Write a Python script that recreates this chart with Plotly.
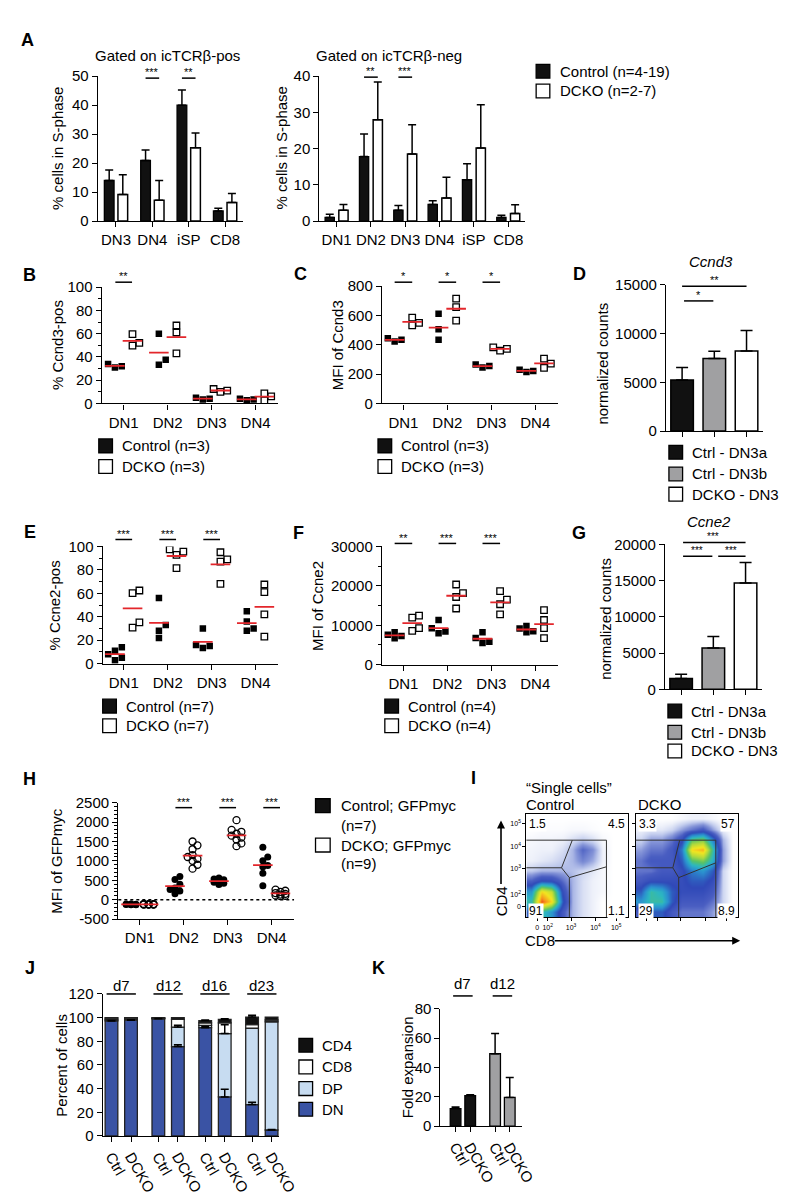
import plotly.graph_objects as go

FONT = "Liberation Sans, Arial, Helvetica, sans-serif"
W, H = 800, 1200
BLACK = "#111111"
RED = "#e3262b"
GRAY = "#a0a0a2"
BLUE = "#3a53a4"
LBLUE = "#c7dcf1"

# ------------------------------------------------------------------ data
# Panel A (left): gated on icTCRb-pos
a1_cats = ["DN3", "DN4", "iSP", "CD8"]
a1_ctrl = [14.0, 20.9, 40.0, 3.5]
a1_ctrl_err = [3.6, 3.6, 5.2, 0.9]
a1_dcko = [9.2, 7.2, 25.3, 6.4]
a1_dcko_err = [6.8, 6.8, 5.1, 3.1]
a1_yticks = [0, 10, 20, 30, 40, 50]
a1_sig = [(1, "***"), (2, "**")]

# Panel A (right): gated on icTCRb-neg
a2_cats = ["DN1", "DN2", "DN3", "DN4", "iSP", "CD8"]
a2_ctrl = [1.0, 17.8, 3.0, 4.6, 11.4, 1.0]
a2_ctrl_err = [0.9, 6.2, 1.3, 1.0, 4.4, 0.6]
a2_dcko = [3.0, 28.0, 18.5, 6.4, 20.2, 2.1]
a2_dcko_err = [1.6, 10.4, 8.1, 5.7, 11.9, 2.4]
a2_yticks = [0, 10, 20, 30, 40]
a2_sig = [(1, "**"), (2, "***")]

dn_cats = ["DN1", "DN2", "DN3", "DN4"]

# Panel B: % Ccnd3-pos
b_ctrl = [[34, 32, 31], [60, 37.6, 33.3], [5, 4, 3.5], [4, 3.5, 2.8]]
b_dcko = [[59.6, 49.7, 52], [67, 61, 43], [12.4, 11, 10], [8.7, 6, 2.7]]
b_yticks = [0, 20, 40, 60, 80, 100]
b_sig = [(1, "**")]

# Panel C: MFI of Ccnd3
c_ctrl = [[445, 422, 435], [612, 506, 435], [265, 245, 255], [230, 215, 222]]
c_dcko = [[585, 533, 550], [715, 657, 565], [383, 360, 372], [305, 272, 242]]
c_yticks = [0, 200, 400, 600, 800]
c_sig = [(1, "*"), (2, "*"), (3, "*")]

# Panel D: Ccnd3 normalized counts
rna_labels = ["Ctrl - DN3a", "Ctrl - DN3b", "DCKO - DN3"]
d_vals = [5236, 7432, 8210]
d_err = [1284, 744, 2090]
d_yticks = [0, 5000, 10000, 15000]

# Panel E: % Ccne2-pos
e_ctrl = [[14, 11, 8, 5, 3], [56, 33, 28, 22], [30, 16, 15, 13.4], [44.8, 35.9, 30, 28]]
e_dcko = [[62.4, 60.2, 35.3, 30.8], [97.5, 95.5, 92.7, 81.5], [95, 89, 87, 68], [67.5, 61, 42, 23]]
e_yticks = [0, 20, 40, 60, 80, 100]
e_sig = [(1, "***"), (2, "***"), (3, "***")]

# Panel F: MFI of Ccne2
f_ctrl = [[8200, 7600, 7300, 6700], [11330, 9250, 8420, 8000], [8250, 6750, 5800, 5500], [9800, 9200, 8500, 8200]]
f_dcko = [[12420, 11920, 9250, 8580], [20330, 18170, 17170, 14250], [18670, 16500, 15330, 12750], [13830, 11330, 9250, 6750]]
f_yticks = [0, 10000, 20000, 30000]
f_sig = [(1, "**"), (2, "***"), (3, "***")]

# Panel G: Ccne2 normalized counts
g_vals = [1500, 5712, 14690]
g_err = [590, 1590, 2810]
g_yticks = [0, 5000, 10000, 15000, 20000]

# Panel H: MFI of GFPmyc
h_ctrl = [[-110, -120, -130, -115, -125, -120, -130],
          [600, 520, 400, 300, 260, 220, 150],
          [560, 530, 510, 480, 450, 420, 390],
          [1350, 1100, 1000, 880, 850, 680, 360]]
h_dcko = [[-115, -120, -125, -130, -110, -120, -125, -118, -122],
          [1500, 1400, 1300, 1150, 1100, 1050, 1000, 900, 800],
          [2050, 1800, 1750, 1700, 1650, 1600, 1550, 1450, 1380],
          [260, 230, 200, 170, 150, 130, 110, 100, 90]]
h_yticks = [-500, 0, 500, 1000, 1500, 2000, 2500]
h_sig = [(2, "***"), (3, "***"), (4, "***")]

# Panel I: coarse density (rows: CD4 low->high, cols: CD8 low->high)
i_ctrl_grid = [
    [3, 5, 4, 2, 0.8, 0.4, 0.2, 0, 0, 0],
    [5, 9.5, 8, 3, 0.8, 0.4, 0.2, 0, 0, 0],
    [4, 8, 7, 2.5, 0.8, 0.4, 0.2, 0.1, 0, 0],
    [1.8, 2.6, 2.5, 1.6, 0.8, 0.4, 0.2, 0.1, 0, 0],
    [0.6, 0.8, 0.8, 0.8, 0.7, 0.5, 0.3, 0.1, 0, 0],
    [0.2, 0.3, 0.4, 0.6, 0.8, 1.3, 0.9, 0.2, 0, 0],
    [0.15, 0.2, 0.2, 0.4, 0.8, 1.7, 1.2, 0.2, 0, 0],
    [0.1, 0.15, 0.15, 0.2, 0.4, 0.6, 0.4, 0.1, 0, 0],
    [0, 0.05, 0.05, 0.05, 0.1, 0.1, 0.05, 0, 0, 0],
    [0, 0, 0, 0, 0, 0, 0, 0, 0, 0],
]
i_dcko_grid = [
    [2, 3, 3, 2, 1.5, 1.5, 1.5, 1, 0.3, 0],
    [4, 5, 5, 3, 2, 2, 2, 1.5, 0.5, 0],
    [3, 5, 4.5, 3, 2.5, 2.5, 2.5, 2, 0.5, 0],
    [2, 2.5, 2.5, 2.5, 2.5, 3, 3, 2.5, 0.5, 0],
    [1.5, 1.5, 2, 2, 2.5, 3.5, 4, 3, 0.5, 0],
    [1.5, 2, 2, 2, 3, 5.5, 6, 4.5, 1, 0],
    [1, 1.5, 1.5, 2, 3.5, 8, 8.5, 5, 1, 0],
    [0.5, 1, 1, 1.5, 2.5, 5.5, 6, 3.5, 0.8, 0],
    [0.2, 0.3, 0.3, 0.5, 1, 1.5, 2, 1, 0.2, 0],
    [0, 0, 0, 0, 0.1, 0.2, 0.2, 0.1, 0, 0],
]
i_ticktext = ["0", "10<sup>2</sup>", "10<sup>3</sup>", "10<sup>4</sup>", "10<sup>5</sup>"]
i_ctrl_quad = ["1.5", "4.5", "91", "1.1"]
i_dcko_quad = ["3.3", "57", "29", "8.9"]

# Panel J: stacked composition
j_days = ["d7", "d12", "d16", "d23"]
j_labels = ["Ctrl", "DCKO"] * 4
j_dn = [97.2, 97.8, 99.0, 75.5, 91.5, 33.0, 26.5, 5.0]
j_dn_err = [0.3, 0.3, 0.2, 1.5, 1.0, 6.5, 2.0, 0.5]
j_dp = [1.0, 0.5, 0.3, 16.5, 2.0, 53.5, 64.5, 91.5]
j_dp_err = [0, 0, 0, 1.5, 0, 7.5, 0, 0]
j_cd8 = [1.3, 1.2, 0.4, 6.5, 2.0, 9.0, 3.0, 1.5]
j_cd4 = [0.5, 0.5, 0.3, 1.5, 2.0, 3.0, 6.5, 2.5]
j_cd4_err = [0, 0, 0, 0, 0.5, 0.5, 1.5, 0]
j_yticks = [0, 20, 40, 60, 80, 100, 120]

# Panel K: fold expansion
k_days = ["d7", "d12"]
k_labels = ["Ctrl", "DCKO", "Ctrl", "DCKO"]
k_vals = [11.9, 20.8, 49.3, 19.5]
k_err = [1.1, 0.6, 13.9, 13.7]
k_yticks = [0, 20, 40, 60, 80]

# ------------------------------------------------------------------ helpers
fig = go.Figure()
shapes, annots = [], []
PAN = {}


def fx(p):
    return p / W


def fy(p):
    return 1 - p / H


def ax_ids(n):
    s = "" if n == 1 else str(n)
    return "x" + s, "y" + s, "xaxis" + s, "yaxis" + s


AX_BASE = dict(showline=True, linecolor="black", linewidth=1.3, ticks="outside", ticklen=5,
               tickwidth=1.3, tickcolor="black", showgrid=False, zeroline=False,
               tickfont=dict(family=FONT, size=15, color="black"), fixedrange=True)


def make_axes(n, xd, yd, xr, yr, xkw=None, ykw=None):
    xa, ya, xs, ys = ax_ids(n)
    PAN[n] = (xd, yd, xr, yr)
    xax = dict(AX_BASE, domain=[fx(xd[0]), fx(xd[1])], range=xr, anchor=ya)
    yax = dict(AX_BASE, domain=[fy(yd[1]), fy(yd[0])], range=yr, anchor=xa)
    if xkw:
        xax.update(xkw)
    if ykw:
        yax.update(ykw)
    fig.update_layout({xs: xax, ys: yax})
    return xa, ya


def X(n, v):
    xd, yd, xr, yr = PAN[n]
    return xd[0] + (v - xr[0]) / (xr[1] - xr[0]) * (xd[1] - xd[0])


def Y(n, v):
    xd, yd, xr, yr = PAN[n]
    return yd[1] - (v - yr[0]) / (yr[1] - yr[0]) * (yd[1] - yd[0])


def text(x, y, s, size=15, xanchor="center", yanchor="middle", angle=0, bold=False,
         italic=False, bg=None):
    if bold:
        s = f"<b>{s}</b>"
    if italic:
        s = f"<i>{s}</i>"
    a = dict(x=fx(x), y=fy(y), xref="paper", yref="paper", text=s, showarrow=False,
             xanchor=xanchor, yanchor=yanchor, textangle=angle,
             font=dict(family=FONT, size=size, color="black"), borderpad=0)
    if bg:
        a["bgcolor"] = bg
    annots.append(a)


def line(x0, y0, x1, y1, w=1.5, color="black", dash=None):
    l = dict(color=color, width=w)
    if dash:
        l["dash"] = dash
    shapes.append(dict(type="line", xref="paper", yref="paper", x0=fx(x0), y0=fy(y0),
                       x1=fx(x1), y1=fy(y1), line=l))


def box(x0, y0, x1, y1, fill, lw=1.3):
    shapes.append(dict(type="rect", xref="paper", yref="paper", x0=fx(x0), y0=fy(y1),
                       x1=fx(x1), y1=fy(y0), fillcolor=fill, line=dict(color="black", width=lw)))


def legend(x, ys, fills, labels, size=15, sq=14):
    for yc, f, lab in zip(ys, fills, labels):
        box(x, yc - sq / 2, x + sq, yc + sq / 2, f)
        text(x + sq + 9, yc, lab, size=size, xanchor="left")


def stars(xc, ypx, s, size=11):
    # asterisks sit high in the em box; anchor a compact box just above the bar
    text(xc, ypx - 6, s, size=size, yanchor="middle")


def sig(n, x0v, x1v, ypx, s):
    line(X(n, x0v), ypx, X(n, x1v), ypx, w=1.5)
    stars((X(n, x0v) + X(n, x1v)) / 2, ypx, s)


def err(e, width=4):
    return dict(type="data", array=e, arrayminus=[0] * len(e), symmetric=False,
                color="black", thickness=1.5, width=width, visible=True)


def swarm_offsets(n, vals, d):
    xd, yd, xr, yr = PAN[n]
    kx = (xd[1] - xd[0]) / (xr[1] - xr[0])
    ky = (yd[1] - yd[0]) / (yr[1] - yr[0])
    placed, offs = [], [0.0] * len(vals)
    for i in sorted(range(len(vals)), key=lambda j: vals[j]):
        y = vals[i] * ky
        best, best_cost = 0.0, None
        for c in (0, d, -d):
            cost = sum(max(0.0, d - ((c - px) ** 2 + (y - py) ** 2) ** 0.5) for px, py in placed)
            if best_cost is None or cost < best_cost - 1e-9:
                best, best_cost = c, cost
        placed.append((best, y))
        offs[i] = best / kx
    return offs


def pair_bars(n, ncat, ctrl, ctrl_e, dcko, dcko_e, sep, width):
    xa, ya, _, _ = ax_ids(n)
    idx = list(range(ncat))
    fig.add_bar(x=[i - sep for i in idx], y=ctrl, width=width, xaxis=xa, yaxis=ya,
                marker=dict(color=BLACK, line=dict(color="black", width=1.3)), error_y=err(ctrl_e))
    fig.add_bar(x=[i + sep for i in idx], y=dcko, width=width, xaxis=xa, yaxis=ya,
                marker=dict(color="white", line=dict(color="black", width=1.5)), error_y=err(dcko_e))


def dot_panel(n, ctrl, dcko, filled, opened, size, sep, spread):
    xa, ya, _, _ = ax_ids(n)
    for groups, sign, sym in ((ctrl, -1, filled), (dcko, 1, opened)):
        xs, ys = [], []
        for i, vals in enumerate(groups):
            offs = swarm_offsets(n, vals, spread)
            for v, o in zip(vals, offs):
                xs.append(i + 1 + sign * sep + o)
                ys.append(v)
        if sym.endswith("open"):
            mk = dict(symbol=sym, size=size, color="black", line=dict(width=1.3, color="black"))
        else:
            mk = dict(symbol=sym, size=size, color="black", line=dict(width=0))
        fig.add_scatter(x=xs, y=ys, mode="markers", marker=mk, xaxis=xa, yaxis=ya)
    mx, my = [], []
    for groups, sign in ((ctrl, -1), (dcko, 1)):
        for i, vals in enumerate(groups):
            mx.append(i + 1 + sign * sep)
            my.append(sum(vals) / len(vals))
    fig.add_scatter(x=mx, y=my, mode="markers", xaxis=xa, yaxis=ya,
                    marker=dict(symbol="line-ew", size=14, color=RED, line=dict(color=RED, width=1.8)))


def minor(vals):
    return dict(ticks="outside", ticklen=3, tickwidth=1.1, tickcolor="black",
                tickmode="array", tickvals=vals)


# ------------------------------------------------------------------ Panel A
text(20, 23, "A", size=18, bold=True)
make_axes(1, (92, 241), (60, 207), [-0.5, 3.5], [0, 50],
          xkw=dict(tickvals=list(range(len(a1_cats))), ticktext=a1_cats),
          ykw=dict(tickvals=a1_yticks, ticktext=[str(t) for t in a1_yticks]))
pair_bars(1, len(a1_cats), a1_ctrl, a1_ctrl_err, a1_dcko, a1_dcko_err, 0.187, 0.267)
for c, s in a1_sig:
    sig(1, c - 0.187, c + 0.187, 62, s)
text(163, 39, "Gated on icTCR\u03b2-pos")
text(50, 133, "% cells in S-phase", angle=-90)

make_axes(2, (319, 530), (60, 207), [-0.5, 5.5], [0, 40],
          xkw=dict(tickvals=list(range(len(a2_cats))), ticktext=a2_cats),
          ykw=dict(tickvals=a2_yticks, ticktext=[str(t) for t in a2_yticks]))
pair_bars(2, len(a2_cats), a2_ctrl, a2_ctrl_err, a2_dcko, a2_dcko_err, 0.2, 0.27)
for c, s in a2_sig:
    sig(2, c - 0.2, c + 0.2, 61, s)
text(390, 39, "Gated on icTCR\u03b2-neg")
text(280, 133, "% cells in S-phase", angle=-90)
legend(541, [55, 75], [BLACK, "white"], ["Control (n=4-19)", "DCKO (n=2-7)"])

# ------------------------------------------------------------------ Panel B
text(22, 262, "B", size=18, bold=True)
make_axes(3, (96, 277), (274, 392), [0.5, 4.52], [0, 100],
          xkw=dict(tickvals=[1, 2, 3, 4], ticktext=dn_cats),
          ykw=dict(tickvals=b_yticks, ticktext=[str(t) for t in b_yticks],
                   minor=minor(list(range(0, 101, 10)))))
dot_panel(3, b_ctrl, b_dcko, "square", "square-open", 6.5, 0.2, 7)
for c, s in b_sig:
    sig(3, c - 0.19, c + 0.19, 269, s)
text(50, 333, "% Ccnd3-pos", angle=-90)
legend(93, [435, 456], [BLACK, "white"], ["Control (n=3)", "DCKO (n=3)"])

# ------------------------------------------------------------------ Panel C
text(300, 261, "C", size=18, bold=True)
make_axes(4, (383, 563), (273, 392), [0.51, 4.51], [0, 800],
          xkw=dict(tickvals=[1, 2, 3, 4], ticktext=dn_cats),
          ykw=dict(tickvals=c_yticks, ticktext=[str(t) for t in c_yticks]))
dot_panel(4, c_ctrl, c_dcko, "square", "square-open", 6.5, 0.2, 7)
for c, s in c_sig:
    sig(4, c - 0.2, c + 0.2, 269, s)
text(337, 333, "MFI of Ccnd3", angle=-90)
legend(379, [435, 456], [BLACK, "white"], ["Control (n=3)", "DCKO (n=3)"])

# ------------------------------------------------------------------ Panel D
text(585, 261, "D", size=18, bold=True)
make_axes(5, (674, 773), (271.5, 420), [-0.5, 2.5], [0, 15000],
          xkw=dict(tickvals=[0, 1, 2], showticklabels=False),
          ykw=dict(tickvals=d_yticks, ticktext=[str(t) for t in d_yticks]))
fig.add_bar(x=[0, 1, 2], y=d_vals, width=0.7, xaxis="x5", yaxis="y5",
            marker=dict(color=[BLACK, GRAY, "white"], line=dict(color="black", width=1.5)),
            error_y=err(d_err, width=6))
line(X(5, 0), 273, X(5, 2), 273)
stars((X(5, 0) + X(5, 2)) / 2, 273, "**")
line(X(5, 0) + 2, 288, X(5, 1) - 1, 288)
stars((X(5, 0) + X(5, 1)) / 2, 288, "*")
text(720, 248, "Ccnd3", italic=True)
text(608, 352, "normalized counts", angle=-90)
legend(677, [441.5, 463.5, 484], [BLACK, GRAY, "white"], rna_labels)

# ------------------------------------------------------------------ Panel E
text(23, 522, "E", size=18, bold=True)
make_axes(6, (97, 277), (537, 656), [0.52, 4.52], [0, 100],
          xkw=dict(tickvals=[1, 2, 3, 4], ticktext=dn_cats),
          ykw=dict(tickvals=e_yticks, ticktext=[str(t) for t in e_yticks],
                   minor=minor(list(range(0, 101, 10)))))
dot_panel(6, e_ctrl, e_dcko, "square", "square-open", 6.5, 0.2, 7)
for c, s in e_sig:
    sig(6, c - 0.19, c + 0.19, 530, s)
text(48, 597, "% Ccne2-pos", angle=-90)
legend(97, [699, 719], [BLACK, "white"], ["Control (n=7)", "DCKO (n=7)"])

# ------------------------------------------------------------------ Panel F
text(298, 523, "F", size=18, bold=True)
make_axes(7, (383, 563), (537, 657), [0.51, 4.51], [0, 30000],
          xkw=dict(tickvals=[1, 2, 3, 4], ticktext=dn_cats),
          ykw=dict(tickvals=f_yticks, ticktext=[str(t) for t in f_yticks],
                   minor=minor(list(range(0, 30001, 5000)))))
dot_panel(7, f_ctrl, f_dcko, "square", "square-open", 6.5, 0.2, 7)
for c, s in f_sig:
    sig(7, c - 0.2, c + 0.2, 534, s)
text(317, 597, "MFI of Ccne2", angle=-90)
legend(386, [699, 719], [BLACK, "white"], ["Control (n=4)", "DCKO (n=4)"])

# ------------------------------------------------------------------ Panel G
text(585, 523, "G", size=18, bold=True)
make_axes(8, (673, 772), (535, 682), [-0.5, 2.5], [0, 20000],
          xkw=dict(tickvals=[0, 1, 2], showticklabels=False),
          ykw=dict(tickvals=g_yticks, ticktext=[str(t) for t in g_yticks]))
fig.add_bar(x=[0, 1, 2], y=g_vals, width=0.7, xaxis="x8", yaxis="y8",
            marker=dict(color=[BLACK, GRAY, "white"], line=dict(color="black", width=1.5)),
            error_y=err(g_err, width=6))
line(X(8, 0) + 2, 533, X(8, 2), 533)
stars((X(8, 0) + X(8, 2)) / 2, 533, "***", size=10)
line(X(8, 0) + 2, 547, X(8, 1) - 1, 547)
stars((X(8, 0) + X(8, 1)) / 2, 547, "***", size=10)
line(X(8, 1) + 5, 547, X(8, 2), 547)
stars((X(8, 1) + X(8, 2)) / 2 + 2, 547, "***", size=10)
text(718, 512, "Ccne2", italic=True)
text(612, 610, "normalized counts", angle=-90)
legend(676, [704, 725.5, 744.5], [BLACK, GRAY, "white"], rna_labels)

# ------------------------------------------------------------------ Panel H
text(22, 773, "H", size=18, bold=True)
make_axes(9, (113, 293), (797, 915), [0.51, 4.51], [-500, 2500],
          xkw=dict(tickvals=[1, 2, 3, 4], ticktext=dn_cats),
          ykw=dict(tickvals=h_yticks, ticktext=[str(t) for t in h_yticks],
                   minor=minor(list(range(-500, 2501, 100)))))
shapes.append(dict(type="line", xref="x9 domain", yref="y9", x0=0, x1=1, y0=0, y1=0,
                   line=dict(color="black", width=1.5, dash="dot")))
dot_panel(9, h_ctrl, h_dcko, "circle", "circle-open", 7, 0.2, 5)
for c, s in h_sig:
    sig(9, c - 0.19, c + 0.19, 802, s)
text(50, 856, "MFI of GFPmyc", angle=-90)
box(315, 793, 330, 807, BLACK)
text(340, 800, "Control; GFPmyc", xanchor="left")
text(340, 820, "(n=7)", xanchor="left")
box(315, 833, 330, 847, "white")
text(340, 840, "DCKO; GFPmyc", xanchor="left")
text(340, 859, "(n=9)", xanchor="left")

# ------------------------------------------------------------------ Panel I
text(477, 772, "I", size=18, bold=True)
text(530, 782, "\u201cSingle cells\u201d", xanchor="left")
text(530, 799, "Control", xanchor="left")
text(644, 799, "DCKO", xanchor="left")
CS = [[0, "#ffffff"], [0.02, "#eef1fa"], [0.06, "#c3cdee"], [0.11, "#8494d8"],
      [0.18, "#4a5ec2"], [0.27, "#3049b8"], [0.38, "#2b8fcf"], [0.47, "#2cb7c2"],
      [0.56, "#58c266"], [0.67, "#b2da3c"], [0.78, "#f3e620"], [0.89, "#f7941d"],
      [1, "#e31a1c"]]
i_tickpos_y = [1.05, 2.19, 4.67, 6.86, 9.05]
i_tickpos_x = [1.06, 2.1, 4.4, 6.8, 8.85]
centers = [k + 0.5 for k in range(10)]
for n, (x0, x1), grid, labels in ((10, (531, 635), i_ctrl_grid, True),
                                  (11, (643, 748), i_dcko_grid, False)):
    xa, ya = make_axes(n, (x0, x1), (808, 913), [0, 10], [0, 10],
                       xkw=dict(mirror=True, ticklen=3, tickwidth=1, linewidth=1.2,
                                tickvals=i_tickpos_x, ticktext=i_ticktext,
                                showticklabels=labels, tickfont=dict(family=FONT, size=7, color="black")),
                       ykw=dict(mirror=True, ticklen=3, tickwidth=1, linewidth=1.2,
                                tickvals=i_tickpos_y, ticktext=i_ticktext,
                                showticklabels=labels, tickfont=dict(family=FONT, size=7, color="black")))
    fig.add_heatmap(z=grid, x=centers, y=centers, zsmooth="best", colorscale=CS,
                    zmin=0, zmax=10, showscale=False, xaxis=xa, yaxis=ya)

GATE = "#333333"
# control gates
line(531, 835, 613, 835, w=1, color=GATE)
line(613, 835, 613, 913, w=1, color=GATE)
line(531, 863, 567, 863, w=1, color=GATE)
line(567, 863, 578, 835, w=1, color=GATE)
line(567, 863, 575, 873, w=1, color=GATE)
line(575, 873, 575, 913, w=1, color=GATE)
line(575, 873, 613, 862, w=1, color=GATE)
# DCKO gates
line(643, 835, 725, 835, w=1, color=GATE)
line(725, 835, 725, 913, w=1, color=GATE)
line(643, 863, 681, 863, w=1, color=GATE)
line(681, 863, 688, 835, w=1, color=GATE)
line(681, 863, 687, 873, w=1, color=GATE)
line(687, 873, 687, 913, w=1, color=GATE)
line(687, 873, 725, 858, w=1, color=GATE)

for (xl, xr), q in (((533, 633), i_ctrl_quad), ((645, 746), i_dcko_quad)):
    text(xl, 819, q[0], size=12, xanchor="left", bg="white")
    text(xr, 819, q[1], size=12, xanchor="right", bg="white")
    text(xl, 907, q[2], size=12, xanchor="left", bg="white")
    text(xr, 907, q[3], size=12, xanchor="right", bg="white")

text(505, 897, "CD4", angle=-90)
text(545, 937, "CD8")
annots.append(dict(x=fx(505), y=fy(815), ax=0, ay=65, xref="paper", yref="paper",
                   axref="pixel", ayref="pixel", text="", showarrow=True, arrowhead=2,
                   arrowsize=1, arrowwidth=1.6, arrowcolor="black"))
annots.append(dict(x=fx(750), y=fy(937), ax=-187, ay=0, xref="paper", yref="paper",
                   axref="pixel", ayref="pixel", text="", showarrow=True, arrowhead=2,
                   arrowsize=1, arrowwidth=1.6, arrowcolor="black"))

# ------------------------------------------------------------------ Panel J
text(23, 965, "J", size=18, bold=True)
j_pos = [g * 2.4 + k for g in range(len(j_days)) for k in range(2)]
make_axes(12, (97, 278), (991, 1135), [-0.45, 8.6], [0, 120],
          xkw=dict(tickvals=j_pos, ticktext=j_labels, tickangle=60),
          ykw=dict(tickvals=j_yticks, ticktext=[str(t) for t in j_yticks]))
segments = [(j_dn, j_dn_err, BLUE), (j_dp, j_dp_err, LBLUE), (j_cd8, None, "white"),
            (j_cd4, j_cd4_err, BLACK)]
base = [0.0] * len(j_pos)
errpts = []
for vals, e, col in segments:
    fig.add_bar(x=j_pos, y=vals, base=list(base), width=0.65, xaxis="x12", yaxis="y12",
                marker=dict(color=col, line=dict(color="#222222", width=1.3)))
    tops = [b + v for b, v in zip(base, vals)]
    if e:
        for p, t, ev in zip(j_pos, tops, e):
            if ev > 0:
                errpts.append((p, t, ev))
    base = tops
fig.add_scatter(x=[p for p, _, _ in errpts], y=[t for _, t, _ in errpts], mode="markers",
                marker=dict(size=1, color="rgba(0,0,0,0)"), xaxis="x12", yaxis="y12",
                error_y=err([ev for _, _, ev in errpts]))
for g, d in enumerate(j_days):
    c = (X(12, j_pos[2 * g]) + X(12, j_pos[2 * g + 1])) / 2
    line(c - 15, 991, c + 15, 991, w=1.5)
    text(c, 982, d)
text(55, 1063, "Percent of cells", angle=-90)
legend(298, [1043, 1065, 1087, 1108], [BLACK, "white", LBLUE, BLUE], ["CD4", "CD8", "DP", "DN"])

# ------------------------------------------------------------------ Panel K
text(380, 965, "K", size=18, bold=True)
k_pos = [g * 2.7 + k for g in range(len(k_days)) for k in range(2)]
make_axes(13, (443, 527), (1006, 1125), [-1.03, 4.57], [0, 80],
          xkw=dict(tickvals=k_pos, ticktext=k_labels, tickangle=60),
          ykw=dict(tickvals=k_yticks, ticktext=[str(t) for t in k_yticks]))
fig.add_bar(x=k_pos, y=k_vals, width=0.73, xaxis="x13", yaxis="y13",
            marker=dict(color=[BLACK, BLACK, GRAY, GRAY], line=dict(color="black", width=1.3)),
            error_y=err(k_err))
for g, d in enumerate(k_days):
    c = (X(13, k_pos[2 * g]) + X(13, k_pos[2 * g + 1])) / 2
    line(c - 10, 993, c + 10, 993, w=1.5)
    text(c, 980, d)
text(410, 1065, "Fold expansion", angle=-90)

# ------------------------------------------------------------------ layout
fig.update_layout(width=W, height=H, margin=dict(l=0, r=0, t=0, b=0), autosize=False,
                  paper_bgcolor="white", plot_bgcolor="rgba(0,0,0,0)", showlegend=False,
                  barmode="overlay", shapes=shapes, annotations=annots,
                  font=dict(family=FONT, size=15, color="black"))
fig.write_html("out.html")
